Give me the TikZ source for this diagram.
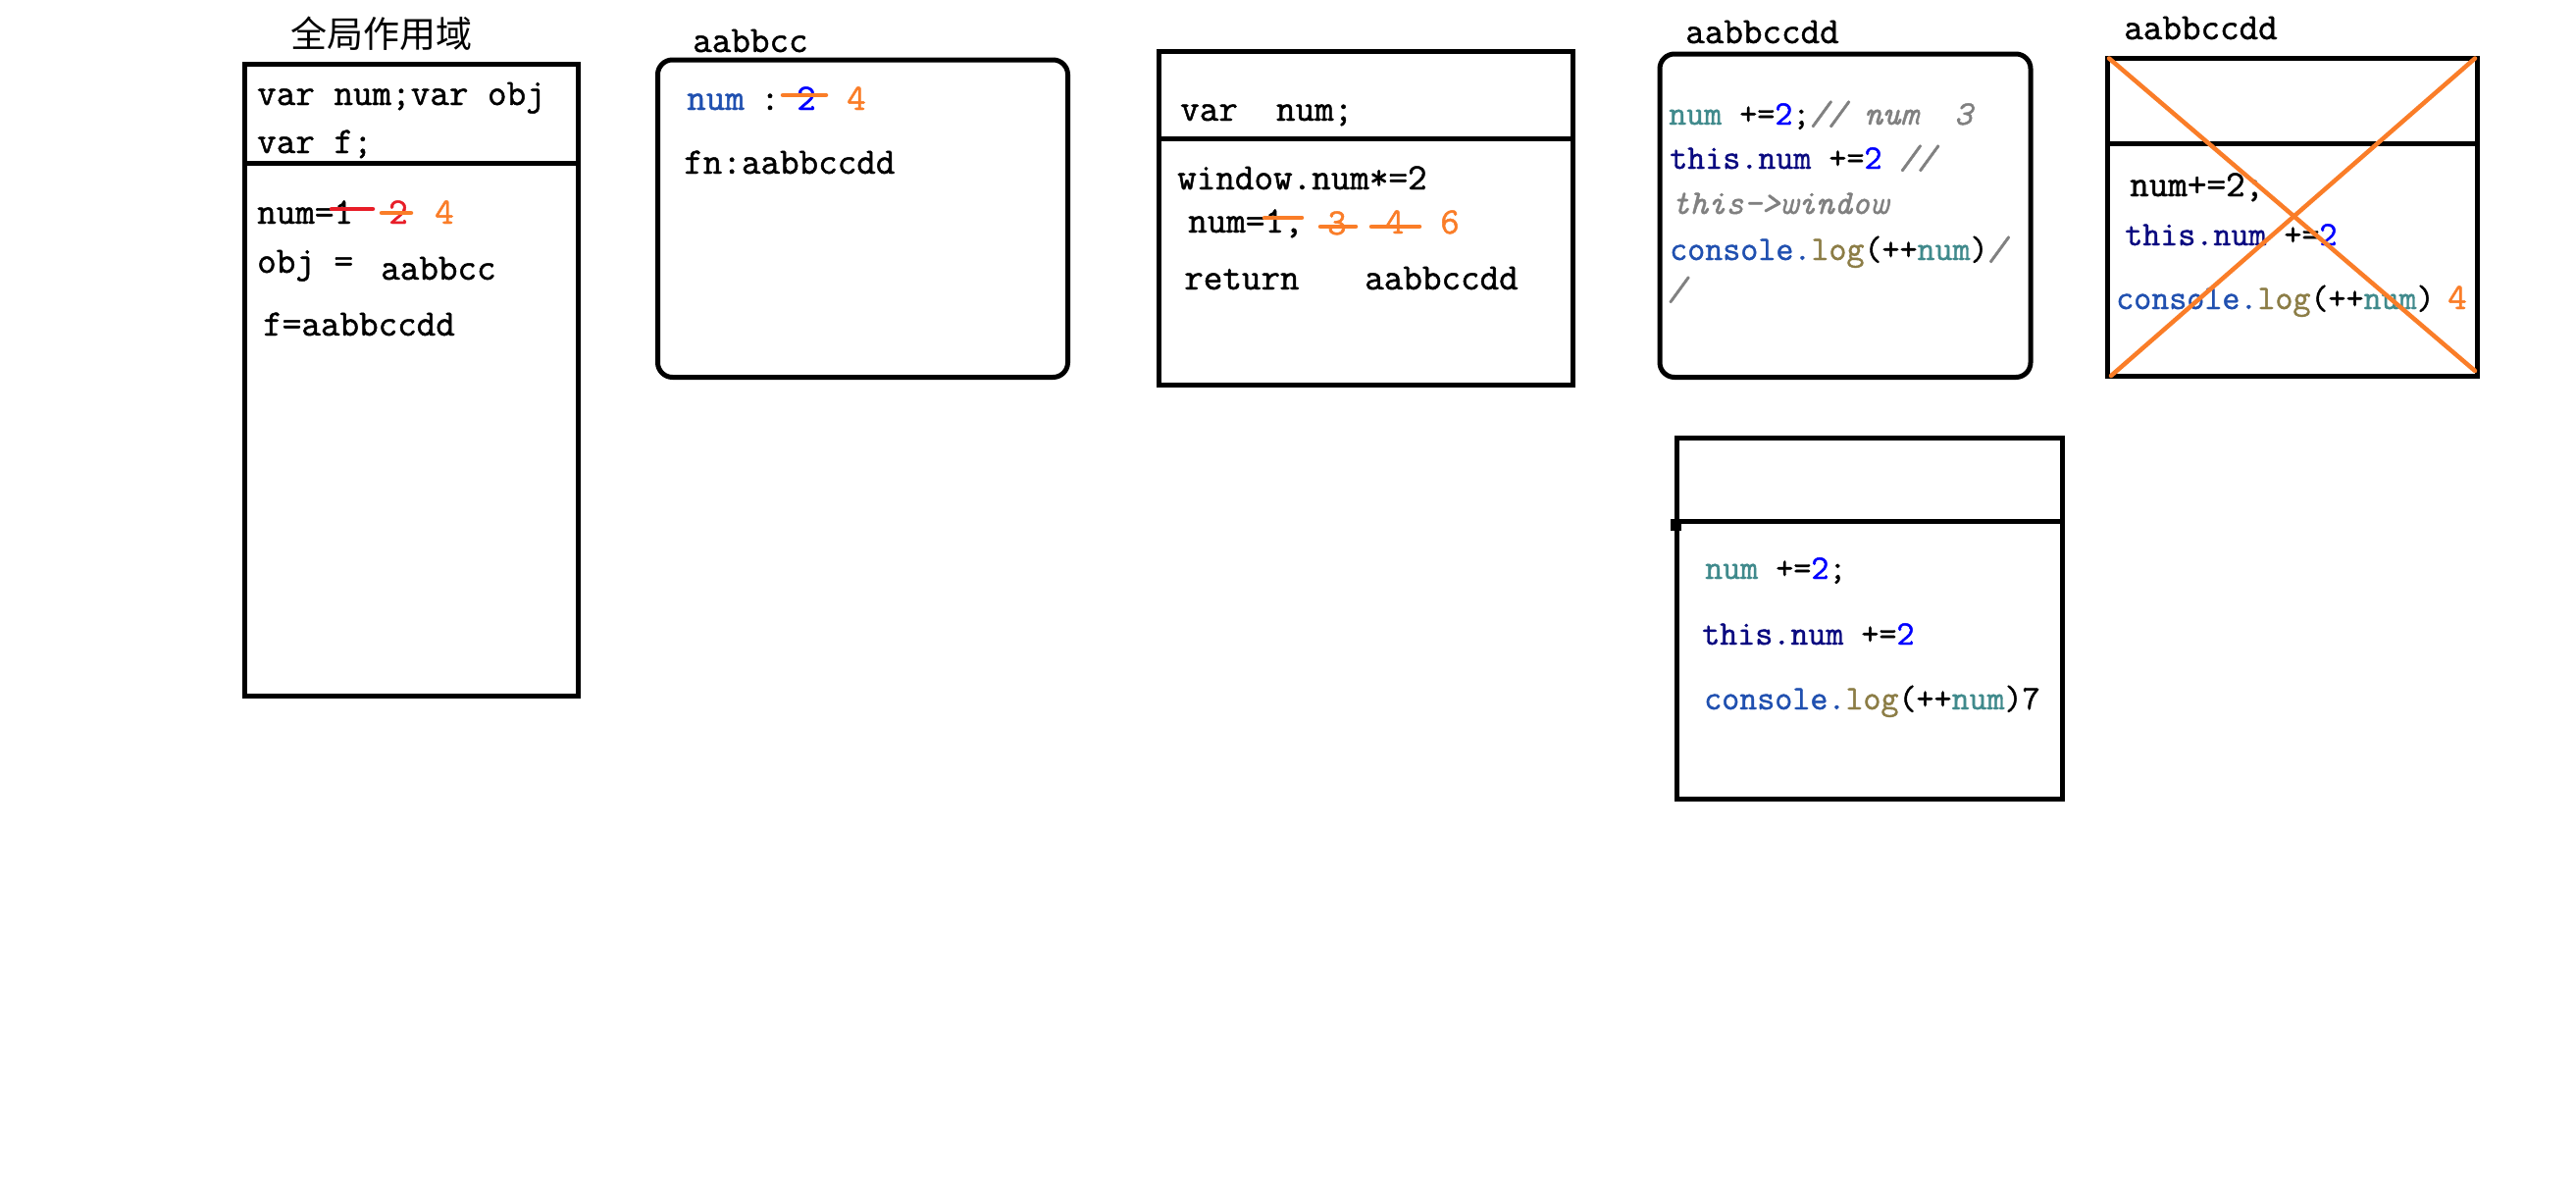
\documentclass[tikz,border=0pt]{standalone}
\usepackage{fontspec}
\setmonofont{Latin Modern Mono}[FakeBold=1.2]
\newfontfamily\cjk{Noto Sans CJK SC}
\definecolor{cteal}{RGB}{64,138,140}
\definecolor{cnavy}{RGB}{10,10,128}
\definecolor{cblue}{RGB}{0,0,255}
\definecolor{cconsole}{RGB}{32,80,176}
\definecolor{colive}{RGB}{140,125,70}
\definecolor{cgrey}{RGB}{128,128,128}
\definecolor{corange}{RGB}{250,125,40}
\definecolor{cred}{RGB}{232,30,40}
\tikzset{
  txt/.style={anchor=base west, inner sep=0pt, font=\ttfamily\fontsize{38}{40}\selectfont},
  ctxt/.style={anchor=base west, inner sep=0pt, font=\ttfamily\fontsize{35}{37}\selectfont},
  cjktxt/.style={anchor=base west, inner sep=0pt, font=\cjk\fontsize{37}{40}\selectfont},
  box/.style={draw=black, line width=5pt},
  strike/.style={line width=4.5pt, line cap=round},
  cross/.style={draw=corange, line width=4.5pt, line cap=round},
}
\begin{document}
\begin{tikzpicture}[x=1pt,y=-1pt]
\useasboundingbox[fill=white] (0,0) rectangle (2626,1216);

% ---------- Box 1: global scope ----------
\node[cjktxt] (gtitle) at (296,48) {全局作用域};
\draw[box] (249,65) rectangle (589,709);
\draw[box] (249,166.5) -- (589,166.5);
\node[txt] (g1) at (262,107) {var num;var obj};
\node[txt] (g2) at (262,156) {var f;};
\node[txt] (g3) at (262,228) {num=1};
\draw[strike, cred] (338,213) -- (380,213);
\node[txt, text=cred] (g3b) at (396,228) {2};
\draw[strike, corange] (389,217) -- (419,217);
\node[txt, text=corange] (g3c) at (443,228) {4};
\node[txt] (g4) at (262,278) {obj =};
\node[txt] (g4b) at (388,285) {aabbcc};
\node[txt] (g5) at (268,342) {f=aabbccdd};

% ---------- Box 2: object aabbcc ----------
\node[txt] (otitle) at (706,53) {aabbcc};
\draw[box, rounded corners=15pt] (670.5,61) rectangle (1088.5,384.5);
\node[txt, text=cconsole] (o1) at (700,112) {num};
\node[txt] (o1a) at (775,112) {:};
\node[txt, text=cblue] (o1b) at (812,112) {2};
\draw[strike, corange] (798,97) -- (842,97);
\node[txt, text=corange] (o1c) at (863,112) {4};
\node[txt] (o2) at (697,177) {fn:aabbccdd};

% ---------- Box 3 ----------
\draw[box] (1181.5,52) rectangle (1603.5,392);
\draw[box] (1181.5,141) -- (1603.5,141);
\node[txt] (w1) at (1203,123) {var~~num;};
\node[txt] (w2) at (1200,193) {window.num*=2};
\node[txt] (w3) at (1211,237) {num=1,};
\draw[strike, corange] (1289,222) -- (1327,222);
\node[txt, text=corange] (w3b) at (1353,239) {3};
\draw[strike, corange] (1346,231) -- (1382,231);
\node[txt, text=corange] (w3c) at (1412,238) {4};
\draw[strike, corange] (1398,231) -- (1447,231);
\node[txt, text=corange] (w3d) at (1468,238) {6};
\node[txt] (w4) at (1207,295) {return};
\node[txt] (w4b) at (1391,295) {aabbccdd};

% ---------- Box 4: function aabbccdd ----------
\node[txt] (ftitle) at (1718,44) {aabbccdd};
\draw[box, rounded corners=15pt] (1692,55) rectangle (2070,384.5);
\node[ctxt] (f1) at (1701,127) {\textcolor{cteal}{num} +=\textcolor{cblue}{2};\textcolor{cgrey}{\itshape// num~~3}};
\node[ctxt] (f2) at (1702,172) {\textcolor{cnavy}{this.num} +=\textcolor{cblue}{2} \textcolor{cgrey}{\itshape//}};
\node[ctxt, text=cgrey] (f3) at (1704,218) {\itshape this->window};
\node[ctxt] (f4) at (1702,265) {\textcolor{cconsole}{console.}\textcolor{colive}{log}(++\textcolor{cteal}{num})\textcolor{cgrey}{\itshape/}};
\node[ctxt, text=cgrey] (f5) at (1700,306) {\itshape /};

% ---------- Box 5: crossed out ----------
\node[txt] (xtitle) at (2165,40) {aabbccdd};
\draw[box] (2148,59) rectangle (2525,383.5);
\draw[box] (2148,146.5) -- (2528,146.5);
\node[txt] (x1) at (2171,200) {num+=2;};
\node[ctxt] (x2) at (2166,250) {\textcolor{cnavy}{this.num} +=\textcolor{cblue}{2}};
\node[ctxt] (x3) at (2157,315) {\textcolor{cconsole}{console.}\textcolor{colive}{log}(++\textcolor{cteal}{num})};
\node[txt, text=corange] (x3b) at (2495,315) {4};
\draw[cross] (2150,59.5) -- (2523,378);
\draw[cross] (2152,383) -- (2523,59.5);

% ---------- Box 6 ----------
\draw[box] (1709,446) rectangle (2102,814.5);
\draw[box] (1709,531) -- (2102,531);
\fill[black] (1703,529) rectangle (1714,541);
\node[ctxt] (s1) at (1738,590) {\textcolor{cteal}{num} +=\textcolor{cblue}{2};};
\node[ctxt] (s2) at (1735,657) {\textcolor{cnavy}{this.num} +=\textcolor{cblue}{2}};
\node[ctxt] (s3) at (1737,723) {\textcolor{cconsole}{console.}\textcolor{colive}{log}(++\textcolor{cteal}{num})7};
\end{tikzpicture}
\end{document}
